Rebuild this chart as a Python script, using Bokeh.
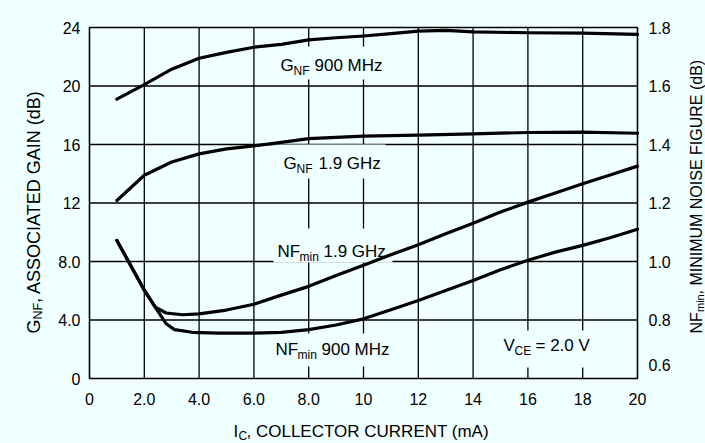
import math
from bokeh.plotting import figure
from bokeh.models import Range1d, LinearAxis, FixedTicker, Label
from bokeh.embed import file_html
from bokeh.resources import INLINE

# ---------------- data ----------------
ic_gain_900 = [1, 2, 3, 4, 5, 6, 7, 8, 9, 10, 11, 12, 13, 14, 16, 18, 20]
gain_900 = [19.1, 20.1, 21.15, 21.9, 22.3, 22.65, 22.85, 23.15, 23.3, 23.42,
            23.58, 23.75, 23.8, 23.7, 23.64, 23.62, 23.53]

ic_gain_19 = [1, 2, 3, 4, 5, 6, 7, 8, 10, 12, 14, 16, 18, 20]
gain_19 = [12.17, 13.9, 14.8, 15.36, 15.7, 15.9, 16.15, 16.4, 16.57, 16.64,
           16.73, 16.82, 16.84, 16.77]

ic_nf_19 = [1.0, 2.0, 2.4, 2.8, 3.4, 4.0, 5.0, 6.0, 7.0, 8.0, 9.0, 10, 11, 12,
            13, 14, 15, 16, 17, 18, 19, 20]
nf_19 = [1.072, 0.902, 0.844, 0.824, 0.818, 0.821, 0.834, 0.854, 0.885, 0.915,
         0.952, 0.987, 1.023, 1.057, 1.095, 1.131, 1.169, 1.203, 1.234, 1.266,
         1.296, 1.326]

ic_nf_900 = [1.0, 2.0, 2.4, 2.8, 3.1, 3.75, 4.7, 6.0, 7.0, 8.0, 9.0, 10, 11, 12,
             13, 14, 15, 16, 17, 18, 19, 20]
nf_900 = [1.072, 0.902, 0.844, 0.787, 0.767, 0.758, 0.755, 0.755, 0.758, 0.767,
          0.783, 0.804, 0.835, 0.867, 0.901, 0.935, 0.972, 1.004, 1.032, 1.055,
          1.081, 1.110]

x_ticks = [0, 2, 4, 6, 8, 10, 12, 14, 16, 18, 20]
x_tick_labels = ["0", "2.0", "4.0", "6.0", "8.0", "10", "12", "14", "16", "18", "20"]
gain_ticks = [0, 4, 8, 12, 16, 20, 24]
gain_tick_labels = ["0", "4.0", "8.0", "12", "16", "20", "24"]
nf_ticks = [0.8, 1.0, 1.2, 1.4, 1.6, 1.8]
nf_tick_labels = ["0.8", "1.0", "1.2", "1.4", "1.6", "1.8"]
nf_bottom_label = "0.6"

# ---------------- layout / style ----------------
BG = "#F0FFFF"
FONT = "Liberation Sans"
W, H = 705, 443
FL, FR, FT, FB = 89, 637, 27, 378          # data-area edges (page px)
X_LO, X_HI = 0, 20
G_LO, G_HI = 0, 24
NF_LO, NF_HI = 0.6, 1.8


def dx(px):
    return X_LO + (px - FL) / (FR - FL) * (X_HI - X_LO)


def dy(py):
    return G_LO + (FB - py) / (FB - FT) * (G_HI - G_LO)


def nf_of(g):
    return NF_LO + (g - G_LO) / (G_HI - G_LO) * (NF_HI - NF_LO)


# the frame spans the whole canvas; the axes are fixed at the data-area edges
p = figure(width=W, height=H,
           x_range=Range1d(dx(0), dx(W)), y_range=Range1d(dy(H), dy(0)),
           output_backend="svg", toolbar_location=None,
           min_border=0, min_border_left=0, min_border_right=0,
           min_border_top=0, min_border_bottom=0,
           background_fill_color=BG, border_fill_color=BG,
           outline_line_color=None)
p.extra_y_ranges = {"nf": Range1d(nf_of(dy(H)), nf_of(dy(0)))}
p.xgrid.visible = False
p.ygrid.visible = False


def style_axis(ax, size="16px", standoff=10):
    ax.axis_line_color = None
    ax.major_tick_out = 0
    ax.major_tick_in = 0
    ax.minor_tick_out = 0
    ax.minor_tick_in = 0
    ax.major_label_text_font = FONT
    ax.major_label_text_font_size = size
    ax.major_label_text_color = "black"
    ax.major_label_standoff = standoff


xa = p.xaxis[0]
xa.ticker = FixedTicker(ticks=x_ticks)
xa.major_label_overrides = dict(zip(x_ticks, x_tick_labels))
xa.fixed_location = G_LO
style_axis(xa, standoff=14)

ya = p.yaxis[0]
ya.ticker = FixedTicker(ticks=gain_ticks)
ya.major_label_overrides = dict(zip(gain_ticks, gain_tick_labels))
ya.fixed_location = X_LO
style_axis(ya, standoff=9)

ra = LinearAxis(y_range_name="nf", ticker=FixedTicker(ticks=nf_ticks))
ra.major_label_overrides = dict(zip(nf_ticks, nf_tick_labels))
ra.fixed_location = X_HI
style_axis(ra, standoff=11)
p.add_layout(ra, "right")

# grid lines (interior ticks) limited to the data area
gx = [t for t in x_ticks if X_LO < t < X_HI]
gy = [t for t in gain_ticks if G_LO < t < G_HI]
p.segment(x0=gx, x1=gx, y0=[G_LO] * len(gx), y1=[G_HI] * len(gx),
          line_color="black", line_width=1.3)
p.segment(x0=[X_LO] * len(gy), x1=[X_HI] * len(gy), y0=gy, y1=gy,
          line_color="black", line_width=1.3)

# background patches behind the curve labels (they interrupt the grid as in the original)
label_boxes_px = [(276, 387, 46, 79), (274, 385, 144, 178), (273, 392, 228, 262),
                  (270, 392, 333, 366), (500, 594, 330, 367)]
p.quad(left=[dx(b[0]) for b in label_boxes_px], right=[dx(b[1]) for b in label_boxes_px],
       top=[dy(b[2]) for b in label_boxes_px], bottom=[dy(b[3]) for b in label_boxes_px],
       fill_color=BG, line_color=None)

# data-area outline
p.quad(left=[X_LO], right=[X_HI], bottom=[G_LO], top=[G_HI],
       fill_color=None, line_color="black", line_width=1.6)

# curves
LW = 3.2
p.line(ic_gain_900, gain_900, line_width=LW, color="black", line_join="round", line_cap="round")
p.line(ic_gain_19, gain_19, line_width=LW, color="black", line_join="round", line_cap="round")
p.line(ic_nf_19, nf_19, y_range_name="nf", line_width=LW, color="black",
       line_join="round", line_cap="round")
p.line(ic_nf_900, nf_900, y_range_name="nf", line_width=LW, color="black",
       line_join="round", line_cap="round")


def add_text(txt, px, py, size, angle=0.0):
    p.add_layout(Label(x=dx(px), y=dy(py), text=txt, text_font=FONT,
                       text_font_size=f"{size}px", text_color="black",
                       text_align="left", text_baseline="alphabetic", angle=angle))


# curve labels
for txt, px, py, sz in [
    ("G", 280, 65, 17), ("NF", 293, 70, 12), ("900 MHz", 314, 65, 17),
    ("G", 283, 163, 17), ("NF", 296, 168, 12), ("1.9 GHz", 318, 163, 17),
    ("NF", 277, 251, 17), ("min", 299, 256, 12), ("1.9 GHz", 323, 251, 17),
    ("NF", 275, 349, 17), ("min", 297, 354, 12), ("900 MHz", 321, 349, 17),
    ("V", 503, 345, 17), ("CE", 514, 350, 12), ("= 2.0 V", 535, 345, 17),
]:
    add_text(txt, px, py, sz)

# x-axis title
add_text("I", 233, 431, 17)
add_text("C", 238, 435, 12)
add_text(", COLLECTOR CURRENT (mA)", 246, 431, 17)

# left axis title (rotated)
R = math.pi / 2
add_text("G", 33, 333, 18, R)
add_text("NF", 37, 319, 12.5, R)
add_text(", ASSOCIATED GAIN (dB)", 33, 302.5, 18, R)

# right axis title (rotated)
add_text("NF", 696, 333, 16, R)
add_text("min", 699, 311.5, 11, R)
add_text(", MINIMUM NOISE FIGURE (dB)", 696, 294, 16, R)

# bottom right-axis tick label, lifted above the x labels as in the original
add_text(nf_bottom_label, 648, 364, 16)

open("out.html", "w").write(file_html(p, INLINE))
